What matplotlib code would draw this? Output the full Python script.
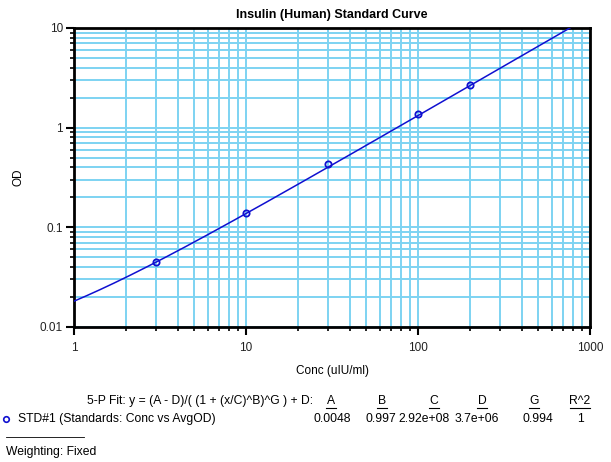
import numpy as np
import matplotlib
matplotlib.use("Agg")
import matplotlib.pyplot as plt
from matplotlib.ticker import LogLocator, FixedLocator, NullFormatter

plt.rcParams['font.family'] = ['Liberation Sans', 'DejaVu Sans']

# standards (Conc vs AvgOD)
conc = [3, 10, 30, 100, 200]
od = [0.045, 0.14, 0.43, 1.38, 2.7]

# 5-P fit parameters shown under the chart
param_names = ['A', 'B', 'C', 'D', 'G', 'R^2']
param_text = ['0.0048', '0.997', '2.92e+08', '3.7e+06', '0.994', '1']
A, B, C, D, G = 0.0048, 0.997, 2.92e+08, 3.7e+06, 0.994

grid_col = '#7dd3f2'
W, H = 611, 462

fig = plt.figure(figsize=(6.11, 4.62), dpi=100)
ax = fig.add_axes([74/W, 1-327/H, (590-74)/W, (327-28)/H])

# fitted curve
xf = np.logspace(0, 3, 400)
yf = D + (A - D) / (1 + (xf / C) ** B) ** G
ax.plot(xf, yf, color='#1010d0', lw=1.1, zorder=3)
ax.plot(conc, od, 'o', mfc='none', mec='#1010d0', ms=4.5, mew=1.3, zorder=4)

ax.set_xscale('log')
ax.set_yscale('log')
ax.set_xlim(1, 1000)
ax.set_ylim(0.01, 10)

ax.xaxis.set_major_locator(FixedLocator([1, 10, 100, 1000]))
ax.yaxis.set_major_locator(FixedLocator([0.01, 0.1, 1, 10]))
ax.set_xticklabels(['1', '10', '100', '1000'])
ax.set_yticklabels(['0.01', '0.1', '1', '10'])
ax.xaxis.set_minor_locator(LogLocator(base=10, subs=np.arange(2, 10)))
ax.yaxis.set_minor_locator(LogLocator(base=10, subs=np.arange(2, 10)))
ax.xaxis.set_minor_formatter(NullFormatter())
ax.yaxis.set_minor_formatter(NullFormatter())

ax.grid(True, which='both', color=grid_col, lw=1.4, zorder=0)
ax.set_axisbelow(True)
ax.tick_params(which='major', length=6, width=1.5, labelsize=8.5, colors='black', labelcolor='#222222')
ax.tick_params(which='minor', length=3, width=1.2, colors='black')
ax.tick_params(axis='x', pad=5)
ax.tick_params(axis='y', pad=2)
for s in ax.spines.values():
    s.set_linewidth(2)

ax.set_title('Insulin (Human) Standard Curve', fontsize=9, fontweight='bold', pad=7)
ax.set_xlabel('Conc (uIU/ml)', fontsize=8.5)
ax.set_ylabel('OD', fontsize=8.5)
ax.xaxis.set_label_coords(0.5, (327-365)/299)
ax.yaxis.set_label_coords((25-74)/516, 0.5)

# fit table below the chart
fs = 8.7
fig.text(313/W, 1-401/H, '5-P Fit: y = (A - D)/( (1 + (x/C)^B)^G ) + D:', fontsize=fs,
         ha='right', va='center')
col_x = [331, 382, 434, 482, 534, 580]
val_x = [332, 381, 424, 477, 538, 580]
for cx, name in zip(col_x, param_names):
    fig.text(cx/W, 1-401/H, name, fontsize=fs, ha='center', va='center')
    hw = 10 if len(name) > 1 else 5
    fig.lines.append(plt.Line2D([(cx-hw)/W, (cx+hw)/W], [1-408/H, 1-408/H],
                                color='black', lw=0.8, transform=fig.transFigure))
for vx, v in zip(val_x, param_text):
    fig.text(vx/W, 1-419/H, v, fontsize=fs, ha='center', va='center')
fig.lines.append(plt.Line2D([6/W], [1-419/H], marker='o', mfc='none', mec='#1010d0',
                            ms=4, mew=1.2, transform=fig.transFigure))
fig.text(18/W, 1-419/H, 'STD#1 (Standards: Conc vs AvgOD)', fontsize=fs, ha='left', va='center')
fig.lines.append(plt.Line2D([6/W, 84/W], [1-437/H, 1-437/H], color='black', lw=0.6,
                            transform=fig.transFigure))
fig.text(6/W, 1-452/H, 'Weighting: Fixed', fontsize=fs, ha='left', va='center')

fig.savefig('out.png', dpi=100)
